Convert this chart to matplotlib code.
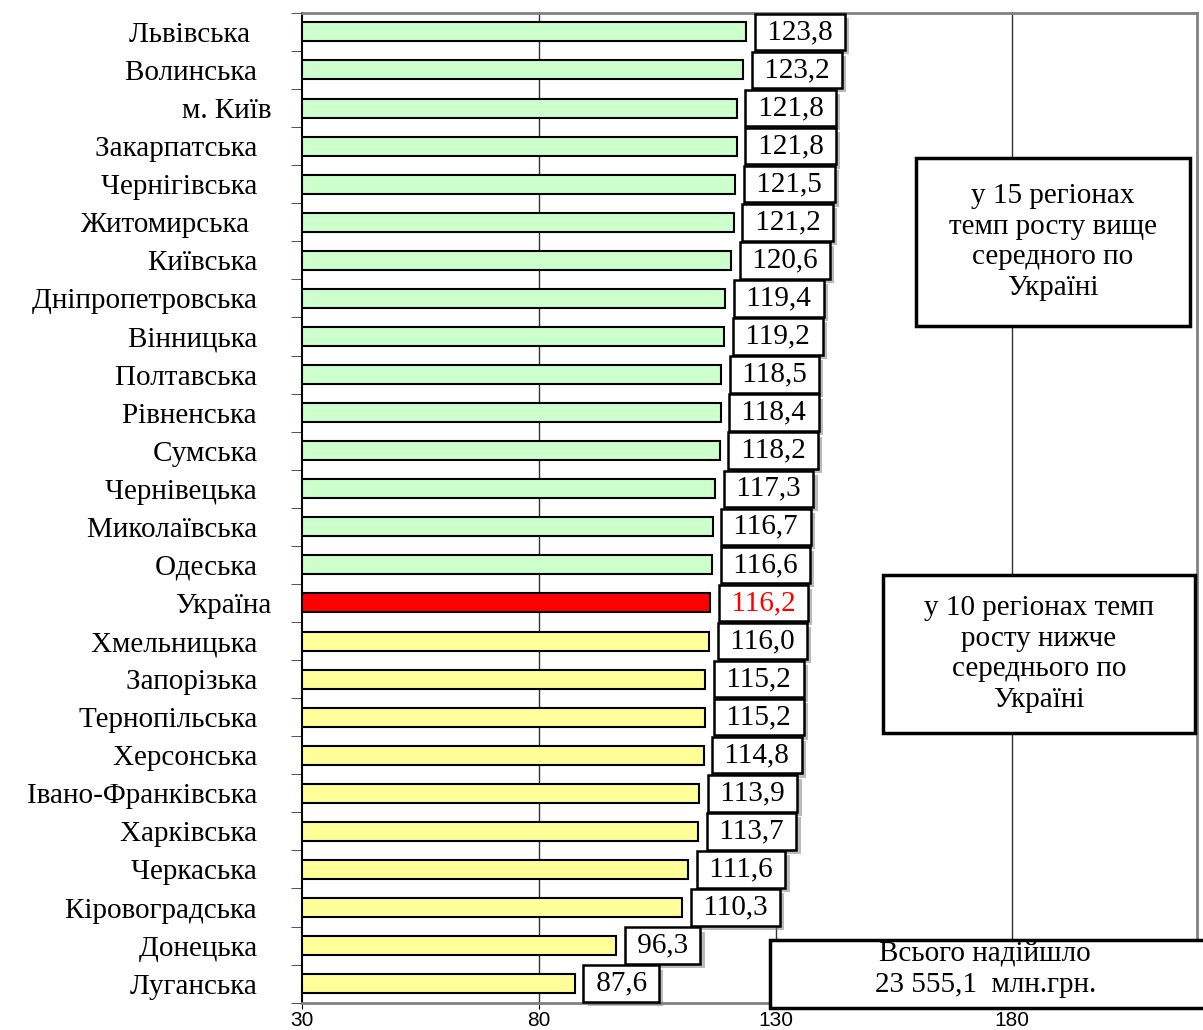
import matplotlib
matplotlib.use("Agg")
import matplotlib.pyplot as plt
import matplotlib.patheffects as pe
from matplotlib.patches import Rectangle

plt.rcParams['font.family'] = ['Liberation Serif', 'DejaVu Serif']

regions = ["Львівська   ", "Волинська  ", "м. Київ", "Закарпатська  ", "Чернігівська  ",
           "Житомирська   ", "Київська  ", "Дніпропетровська  ", "Вінницька  ",
           "Полтавська  ", "Рівненська  ", "Сумська  ", "Чернівецька  ",
           "Миколаївська  ", "Одеська  ", "Україна", "Хмельницька  ", "Запорізька  ",
           "Тернопільська  ", "Херсонська  ", "Івано-Франківська  ", "Харківська  ",
           "Черкаська  ", "Кіровоградська  ", "Донецька  ", "Луганська  "]
growth = [123.8, 123.2, 121.8, 121.8, 121.5, 121.2, 120.6, 119.4, 119.2, 118.5,
          118.4, 118.2, 117.3, 116.7, 116.6, 116.2, 116.0, 115.2, 115.2, 114.8,
          113.9, 113.7, 111.6, 110.3, 96.3, 87.6]
avg_label = "Україна"
x_ticks = [30, 80, 130, 180]

note_above = "у 15 регіонах\nтемп росту вище\nсередного по\nУкраїні"
note_below = "у 10 регіонах темп\nросту нижче\nсереднього по\nУкраїні"
note_total = "Всього надійшло\n23 555,1  млн.грн."

avg = growth[regions.index(avg_label)]
colors = []
for r, v in zip(regions, growth):
    if r == avg_label:
        colors.append('#ff0000')
    elif v > avg:
        colors.append('#ccffcc')
    else:
        colors.append('#ffff99')

fig = plt.figure(figsize=(12.03, 10.30), dpi=100)
ax = fig.add_axes([0.251, 0.0265, 0.744, 0.961])

ypos = list(range(len(regions)))
ax.barh(ypos, [v - 30 for v in growth], left=30, height=0.5, color=colors,
        edgecolor='black', linewidth=1.5, zorder=3)

ax.set_xlim(30, 219)
ax.set_ylim(len(regions) - 0.5, -0.5)

for x in x_ticks[1:]:
    ax.axvline(x, color='#333333', linewidth=1, zorder=1)

ax.set_xticks(x_ticks)
ax.set_xticklabels([str(t) for t in x_ticks], fontsize=15, family='Liberation Sans')
ax.tick_params(axis='x', length=4, direction='out', pad=2)

ax.set_yticks(ypos)
ax.set_yticklabels(regions, fontsize=21)
ax.tick_params(axis='y', which='major', length=0, pad=22)
ax.set_yticks([i - 0.5 for i in range(len(regions) + 1)], minor=True)
ax.tick_params(axis='y', which='minor', length=8, direction='out', color='#333333')

for s in ['top', 'right', 'bottom']:
    ax.spines[s].set_color('#808080')
    ax.spines[s].set_linewidth(2)
ax.spines['left'].set_color('black')
ax.spines['left'].set_linewidth(1.5)

# value labels in framed boxes with a soft shadow
for y, (r, v) in enumerate(zip(regions, growth)):
    txt = " " + f"{v:.1f}".replace('.', ',') + " "
    t = ax.annotate(txt, xy=(v, y), xytext=(10, 0), textcoords='offset points',
                    ha='left', va='center', fontsize=21,
                    color='red' if r == avg_label else 'black',
                    bbox=dict(boxstyle='square,pad=0.18', fc='white', ec='black', lw=1.8),
                    zorder=5)
    t.get_bbox_patch().set_path_effects([
        pe.SimplePatchShadow(offset=(3, -3), shadow_rgbFace='#777777', alpha=0.5),
        pe.Normal()])

# annotation boxes
def note(x0, y0, w, h, text, cx=None, cy=None):
    fig.patches.append(Rectangle((x0, y0), w, h, transform=fig.transFigure,
                                 fc='white', ec='black', lw=2.5, zorder=10))
    fig.text(cx if cx is not None else x0 + w / 2, cy if cy is not None else y0 + h / 2,
             text, ha='center', va='center', fontsize=21, linespacing=1.22, zorder=11)

note(0.7614, 0.6835, 0.2278, 0.1631, note_above)
note(0.734, 0.2883, 0.2594, 0.1534, note_below)
note(0.640, 0.021, 0.37, 0.0665, note_total, cx=0.819, cy=0.0583)

fig.savefig('out.png', dpi=100)
